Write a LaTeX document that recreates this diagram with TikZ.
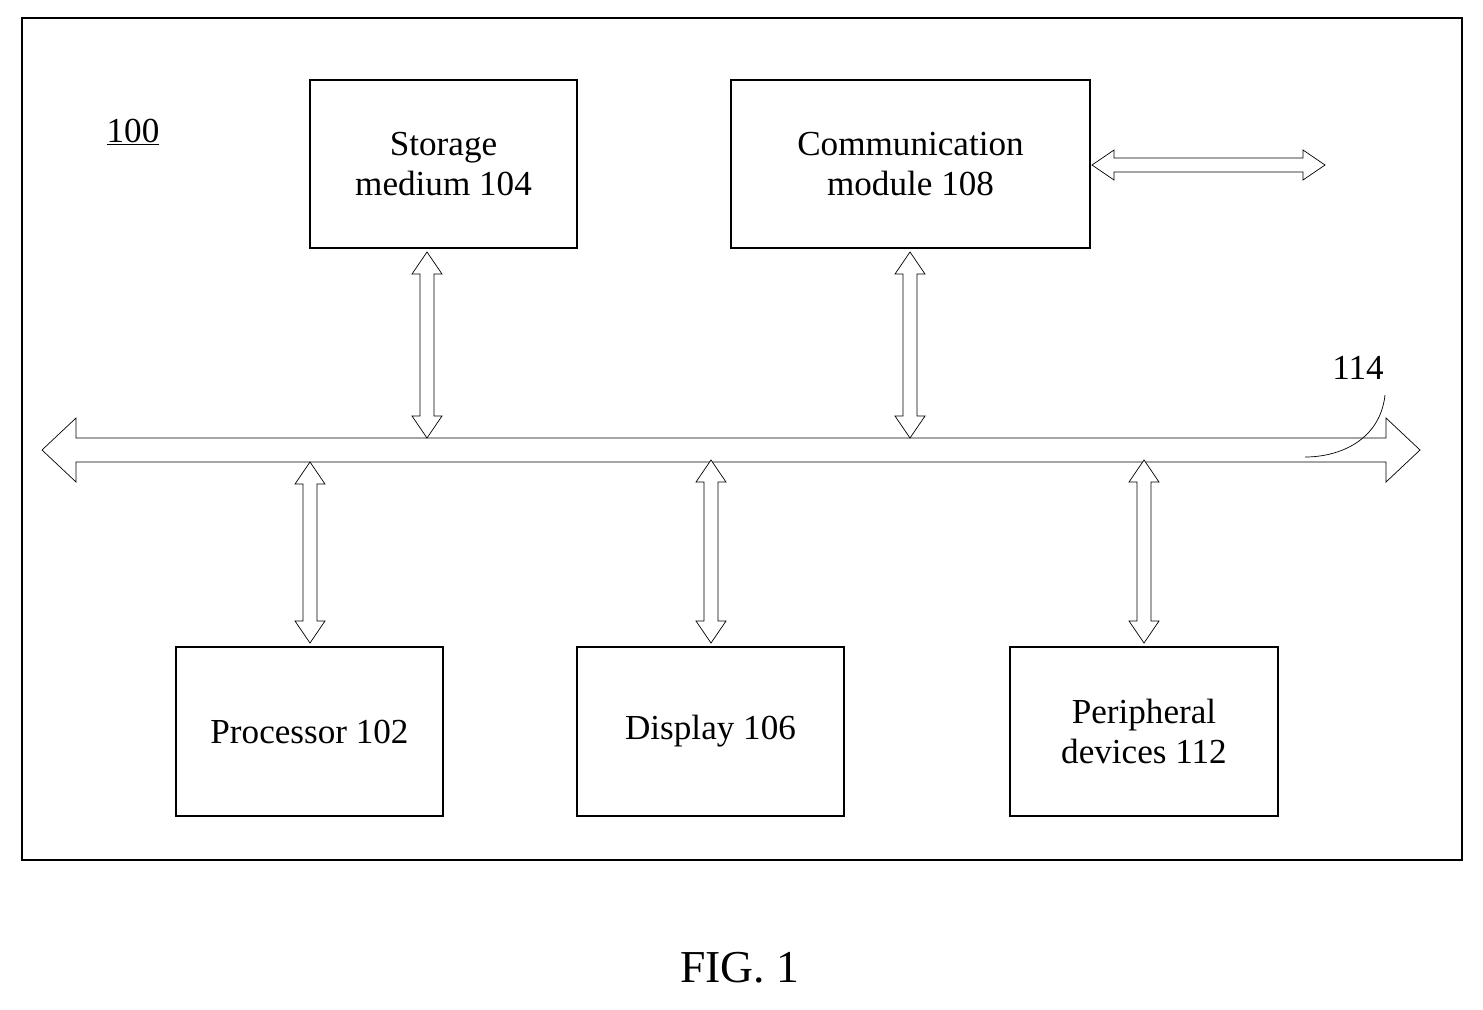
\documentclass[tikz,border=0pt]{standalone}
\usepackage{fontspec}
\setmainfont{Liberation Serif}
\usetikzlibrary{positioning,calc}
\tikzset{
  block/.style={draw, thick, fill=white},
  hollow/.style={draw, thin, fill=white}
}
% vertical hollow double arrow: x, top y, bottom y
\newcommand{\vlink}[3]{%
  \draw[hollow] (#1,#2) -- (#1+15,#2+22) -- (#1+7,#2+22) -- (#1+7,#3-22) -- (#1+15,#3-22)
    -- (#1,#3) -- (#1-15,#3-22) -- (#1-7,#3-22) -- (#1-7,#2+22) -- (#1-15,#2+22) -- cycle;}
% horizontal hollow double arrow: y, left x, right x, shaft half width, head half width, head length
\newcommand{\hlink}[6]{%
  \draw[hollow] (#2,#1) -- (#2+#6,#1-#5) -- (#2+#6,#1-#4) -- (#3-#6,#1-#4) -- (#3-#6,#1-#5)
    -- (#3,#1) -- (#3-#6,#1+#5) -- (#3-#6,#1+#4) -- (#2+#6,#1+#4) -- (#2+#6,#1+#5) -- cycle;}
\begin{document}
\begin{tikzpicture}[x=0.02cm, y=-0.02cm, font=\fontsize{20}{23}\selectfont]
    \useasboundingbox (0,0) rectangle (1483,1009);
    % Frame
    \draw[thick] (22,18) rectangle (1462,860);
    \node[anchor=base] (label100) at (133,142) {\underline{100}};

    % Upper blocks
    \node[block, minimum width=267*0.02cm, minimum height=168*0.02cm, align=center] (storage) at (443.5,164) {Storage\\medium 104};
    \node[block, minimum width=359*0.02cm, minimum height=168*0.02cm, align=center] (comm) at (910.5,164) {Communication\\module 108};

    % Lower blocks
    \node[block, minimum width=267*0.02cm, minimum height=169*0.02cm] (proc) at (309.5,731.5) {Processor 102};
    \node[block, minimum width=267*0.02cm, minimum height=169*0.02cm] (disp) at (710.5,731.5) {Display 106};
    \node[block, minimum width=268*0.02cm, minimum height=169*0.02cm, align=center] (peri) at (1144,731.5) {Peripheral\\devices 112};

    % Bus 114
    \hlink{450}{42}{1420}{12}{32}{34}
    \node (label114) at (1358,368) {114};
    \draw (1385,395) .. controls (1380,440) and (1340,457) .. (1305,457);

    % Links to the bus
    \vlink{427}{252}{438}
    \vlink{910}{252}{438}
    \vlink{310}{462}{643}
    \vlink{711}{460}{643}
    \vlink{1144}{460}{643}
    \hlink{165}{1092}{1325}{7}{15}{22}

    \node (fig) at (740,968) {\fontsize{26}{30}\selectfont FIG. 1};
\end{tikzpicture}
\end{document}
